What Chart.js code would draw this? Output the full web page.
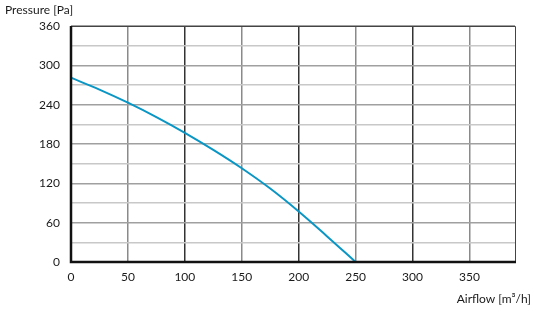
<!DOCTYPE html>
<html lang="en">
<head>
  <meta charset="UTF-8">
  <title>Pressure vs Airflow</title>
  <script src="https://cdn.jsdelivr.net/npm/chart.js"></script>
  <style>
    html, body { margin: 0; padding: 0; background: #fff; }
    #wrap { width: 541px; height: 313px; }
  </style>
</head>
<body>
  <div id="wrap"><canvas id="chart"></canvas></div>
  <script>
    // fan curve
    const airflow = [0, 25, 50, 75, 100, 125, 150, 175, 200, 225, 250];
    const pressure = [281, 263, 243, 221, 197, 171, 143, 112, 77, 39, 0];
    const xTicks = [0, 50, 100, 150, 200, 250, 300, 350];
    const yTicks = [0, 30, 60, 90, 120, 150, 180, 210, 240, 270, 300, 330, 360];

    const FONT = { family: "Lato, 'Open Sans', sans-serif", size: 12 };

    // frame round the plot area + axis titles
    const frame = {
      id: 'frame',
      afterDraw(chart) {
        const { ctx, chartArea: a } = chart;
        ctx.save();
        ctx.strokeStyle = '#444';
        ctx.lineWidth = 1;
        ctx.beginPath();
        ctx.moveTo(a.left, a.top + 0.5);
        ctx.lineTo(a.right + 0.5, a.top + 0.5);
        ctx.lineTo(a.right + 0.5, a.bottom);
        ctx.stroke();
        ctx.strokeStyle = '#111';
        ctx.lineWidth = 2.5;
        ctx.beginPath();
        ctx.moveTo(a.left, a.top);
        ctx.lineTo(a.left, a.bottom);
        ctx.lineTo(a.right + 1, a.bottom);
        ctx.stroke();

        ctx.fillStyle = '#1a1a1a';
        ctx.font = FONT.size + 'px ' + FONT.family;
        ctx.textBaseline = 'middle';
        ctx.textAlign = 'left';
        ctx.fillText('Pressure [Pa]', 5, 10);
        ctx.textAlign = 'right';
        ctx.fillText('Airflow [m\u00B3/h]', 531, 299);
        ctx.restore();
      }
    };

    new Chart(document.getElementById('chart'), {
      type: 'line',
      data: {
        datasets: [{
          data: airflow.map((x, i) => ({ x: x, y: pressure[i] })),
          borderColor: '#0a96c4',
          borderWidth: 2,
          pointRadius: 0,
          tension: 0.4,
          fill: false
        }]
      },
      options: {
        responsive: true,
        maintainAspectRatio: false,
        animation: false,
        layout: { padding: { left: 0, top: 26, right: 26, bottom: 0 } },
        plugins: { legend: { display: false }, tooltip: { enabled: false } },
        scales: {
          x: {
            type: 'linear',
            min: 0,
            max: 390,
            afterBuildTicks: s => { s.ticks = xTicks.map(v => ({ value: v })); },
            afterFit: s => { s.height = 51; },
            border: { display: false },
            grid: {
              drawTicks: false,
              lineWidth: 1.5,
              color: c => (c.tick.value % 100 === 0 ? '#333' : '#8a8a8a')
            },
            ticks: { color: '#1a1a1a', font: FONT, padding: 8, maxRotation: 0 }
          },
          y: {
            min: 0,
            max: 360,
            afterBuildTicks: s => { s.ticks = yTicks.map(v => ({ value: v })); },
            afterFit: s => { s.width = 71; },
            border: { display: false },
            grid: {
              drawTicks: false,
              lineWidth: 1.5,
              color: c => (c.tick.value % 60 === 0 ? '#a0a0a0' : '#c8c8c8')
            },
            ticks: {
              color: '#1a1a1a',
              font: FONT,
              padding: 11,
              autoSkip: false,
              callback: v => (v % 60 === 0 ? v : '')
            }
          }
        }
      },
      plugins: [frame]
    });
  </script>
</body>
</html>
